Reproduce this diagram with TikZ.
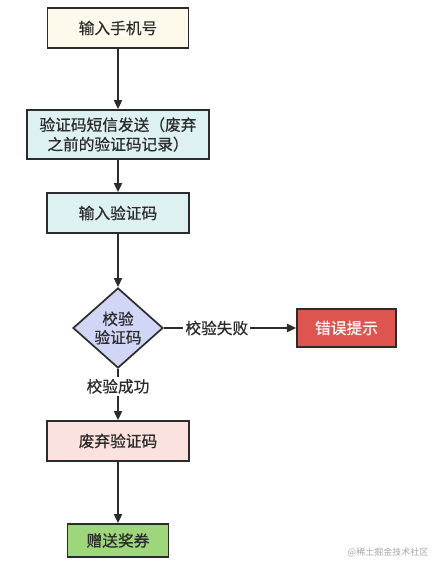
\documentclass[tikz,border=0pt]{standalone}
\usepackage{fontspec}
\setmainfont{Noto Sans CJK SC}[FakeBold=0.5]
\newfontfamily\wmfont{Noto Sans CJK SC}
\usetikzlibrary{shapes.geometric,arrows.meta}
\definecolor{edgec}{HTML}{2B2B2B}
\definecolor{cream}{HTML}{FDFAEC}
\definecolor{cyanl}{HTML}{DDF1F2}
\definecolor{lav}{HTML}{D2D6F6}
\definecolor{errred}{HTML}{DE5550}
\definecolor{pinkl}{HTML}{FBE2DF}
\definecolor{greenl}{HTML}{9DD67B}
\tikzset{
  box/.style={draw=edgec, line width=1.7pt, rectangle, inner sep=0pt, align=center, font=\fontsize{15.7}{19.5}\selectfont, text=edgec},
  dec/.style={draw=edgec, line width=1.7pt, diamond, inner sep=0pt, minimum width=90pt, minimum height=70pt, fill=lav, align=center, font=\fontsize{15.7}{18.5}\selectfont, text=edgec},
  conn/.style={draw=edgec, line width=1.7pt, -{Triangle[length=9pt,width=8pt]}},
  lbl/.style={fill=white, inner sep=2pt, font=\fontsize{15.7}{18}\selectfont, text=edgec}
}
\begin{document}
\begin{tikzpicture}[x=1pt,y=-1pt]
\useasboundingbox (0,0) rectangle (446,572);
\node[box, fill=cream, minimum width=141pt, minimum height=40pt] (n1) at (118,28) {输入手机号};
\node[box, fill=cyanl, minimum width=182pt, minimum height=49pt] (n2) at (118,134.5) {验证码短信发送（废弃\\之前的验证码记录）};
\node[box, fill=cyanl, minimum width=142pt, minimum height=40pt] (n3) at (118,213) {输入验证码};
\node[dec] (d) at (118,328) {校验\\验证码};
\node[box, fill=errred, text=white, minimum width=99pt, minimum height=38pt] (err) at (346.5,328) {错误提示};
\node[box, fill=pinkl, minimum width=142pt, minimum height=40pt] (n4) at (118,441) {废弃验证码};
\node[box, fill=greenl, minimum width=101pt, minimum height=33pt] (n5) at (118,540.5) {赠送奖券};
\draw[conn] (n1) -- (n2);
\draw[conn] (n2) -- (n3);
\draw[conn] (n3) -- (d);
\draw[conn] (d) -- node[lbl, pos=0.4] {校验失败} (err);
\draw[conn] (d.south) -- node[lbl, pos=0.34] {校验成功} (n4);
\draw[conn] (n4) -- (n5);
\node[font=\wmfont\fontsize{9}{10}\selectfont, text=black!35, inner sep=0pt] (wm) at (388,552) {@稀土掘金技术社区};
\end{tikzpicture}
\end{document}
